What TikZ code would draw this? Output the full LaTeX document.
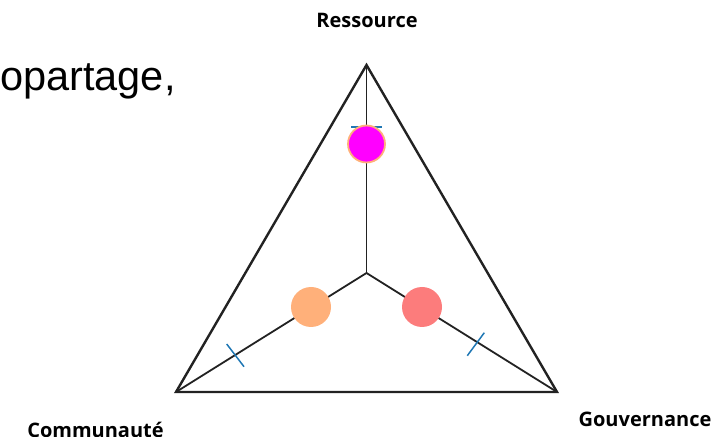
\documentclass[tikz,border=0pt]{standalone}
\usepackage{fontspec}
\setmainfont{Liberation Sans}
\newfontfamily\labelfont{Open Sans}
\definecolor{edgegray}{HTML}{222222}
\definecolor{tickblue}{HTML}{1F77B4}
\definecolor{peach}{HTML}{FFB07A}
\definecolor{salmon}{HTML}{FC7C7C}
\definecolor{magentafill}{HTML}{FF00FF}
\begin{document}
\begin{tikzpicture}[x=1pt,y=1pt,
  edge/.style={draw=edgegray,line width=2.4pt,line join=miter},
  spoke/.style={draw=edgegray,line width=1.8pt},
  tickmark/.style={draw=tickblue,line width=1.5pt},
  dot/.style={circle,inner sep=0pt,minimum size=40pt},
  vlabel/.style={font=\labelfont\bfseries\fontsize{20}{22}\selectfont,inner sep=0pt,anchor=base}]
\useasboundingbox (0,0) rectangle (711,436);
\coordinate (A) at (366.5,371);
\coordinate (B) at (176,44);
\coordinate (C) at (557,44);
\coordinate (O) at (366.5,163);
\coordinate (t1a) at (351,309);
\coordinate (t1b) at (382,309);
\coordinate (t2a) at (226.7,92);
\coordinate (t2b) at (244,69.3);
\coordinate (t3a) at (467.3,80.3);
\coordinate (t3b) at (484.3,103.3);
\draw[spoke] (O) -- (A);
\draw[spoke] (O) -- (B);
\draw[spoke] (O) -- (C);
\draw[edge] (A) -- (B) -- (C) -- cycle;
\draw[tickmark] (t1a) -- (t1b);
\draw[tickmark] (t2a) -- (t2b);
\draw[tickmark] (t3a) -- (t3b);
\node[dot,minimum size=37pt,fill=magentafill,draw=peach,line width=1.8pt] (res) at (366.5,292) {};
\node[dot,fill=peach] (com) at (311,129) {};
\node[dot,fill=salmon] (gov) at (422,129) {};
\node[vlabel] (lres) at (367,408) {Ressource};
\node[vlabel] (lcom) at (95.5,-1) {Communauté};
\node[vlabel] (lgov) at (645,10) {Gouvernance};
\node[font=\fontsize{41.5}{48}\selectfont,inner sep=0pt,anchor=base west] (title) at (0,345) {opartage,};
\end{tikzpicture}
\end{document}
